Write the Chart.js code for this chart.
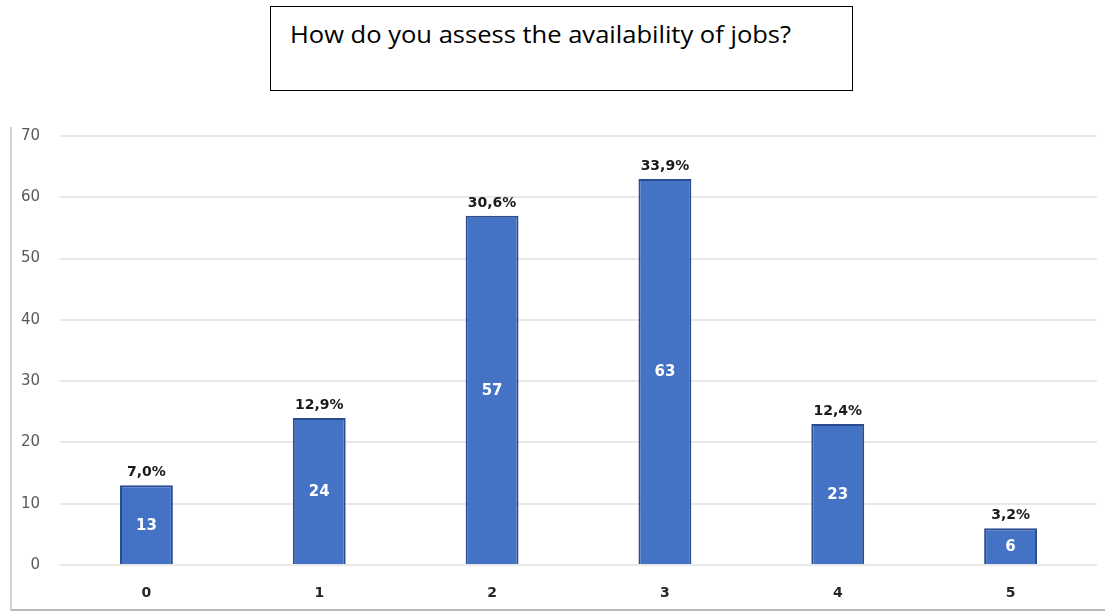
<!DOCTYPE html>
<html>
<head>
<meta charset="utf-8">
<script src="https://cdn.jsdelivr.net/npm/chart.js@4"></script>
<style>
  html, body { margin: 0; padding: 0; background: #fff; }
  #wrap { position: relative; width: 1105px; height: 613px; }
  #frame {
    position: absolute; left: 10px; top: 127px; width: 1095px; height: 482px;
    border-left: 2px solid #d4d4d4; border-bottom: 2px solid #b8b8b8;
  }
  #title {
    position: absolute; left: 270px; top: 6px; width: 583px; height: 85px;
    border: 1.5px solid #000; box-sizing: border-box;
    font-family: 'Open Sans', Lato, sans-serif; font-size: 23px; color: #000;
    padding: 11px 0 0 19px; white-space: nowrap;
  }
  #title span { display: inline-block; transform: scaleX(1.11); transform-origin: left center; }
  canvas { position: absolute; left: 0; top: 0; }
</style>
</head>
<body>
<div id="wrap">
  <div id="frame"></div>
  <div id="title"><span>How do you assess the availability of jobs?</span></div>
  <canvas id="chart" width="1105" height="613"></canvas>
</div>
<script>
// answers on the 0-5 scale and how many respondents picked each
const categories = ['0', '1', '2', '3', '4', '5'];
const counts = [13, 24, 57, 63, 23, 6];
const yTicks = [0, 10, 20, 30, 40, 50, 60, 70];

const total = counts.reduce((a, b) => a + b, 0);
const shareLabel = v => (v / total * 100).toFixed(1).replace('.', ',') + '%';
const labelFont = '"DejaVu Sans", sans-serif';

// count inside each bar, share of total above it
const barLabels = {
    id: 'barLabels',
    afterDatasetsDraw(chart) {
        const ctx = chart.ctx;
        const meta = chart.getDatasetMeta(0);
        ctx.save();
        ctx.textAlign = 'center';
        meta.data.forEach((bar, i) => {
            const v = counts[i];
            ctx.font = 'bold 15px ' + labelFont;
            ctx.fillStyle = '#fff';
            ctx.textBaseline = 'middle';
            ctx.fillText(String(v), bar.x, (bar.y + bar.base) / 2 + 1);

            ctx.font = 'bold 14px ' + labelFont;
            ctx.fillStyle = '#1a1a1a';
            ctx.textBaseline = 'alphabetic';
            ctx.fillText(shareLabel(v), bar.x, bar.y - 9);
        });
        ctx.restore();
    }
};

new Chart(document.getElementById('chart'), {
    type: 'bar',
    data: {
        labels: categories,
        datasets: [{
            data: counts,
            backgroundColor: '#4472c4',
            borderColor: '#2c4c8f',
            borderWidth: 2,
            barPercentage: 0.306,
            categoryPercentage: 1
        }]
    },
    options: {
        responsive: false,
        animation: false,
        layout: { padding: { left: 10, right: 8, top: 136, bottom: 3 } },
        plugins: {
            legend: { display: false },
            tooltip: { enabled: false }
        },
        scales: {
            x: {
                grid: { display: false, drawTicks: false },
                border: { display: false },
                ticks: {
                    padding: 20,
                    color: '#262626',
                    font: { family: labelFont, size: 14, weight: 'bold' }
                },
                afterFit: s => { s.height = 45; }
            },
            y: {
                min: 0,
                max: 70,
                afterBuildTicks: s => { s.ticks = yTicks.map(v => ({ value: v })); },
                grid: { color: '#e8e8e8', lineWidth: 2, drawTicks: false },
                border: { display: false },
                ticks: {
                    padding: 20,
                    color: '#595959',
                    font: { family: labelFont, size: 15 }
                },
                afterFit: s => { s.width = 50; }
            }
        }
    },
    plugins: [barLabels]
});
</script>
</body>
</html>
